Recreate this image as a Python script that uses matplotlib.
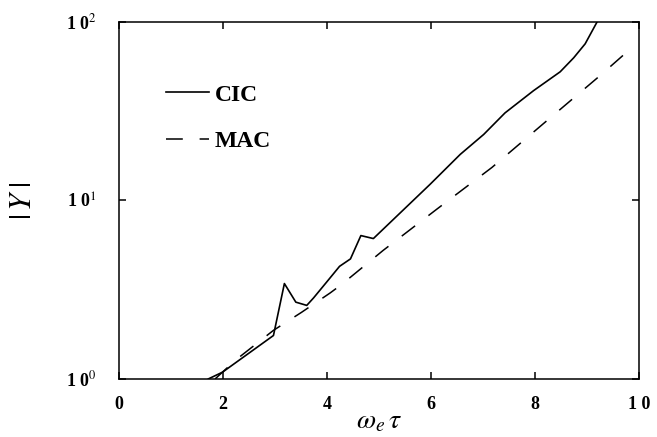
import matplotlib
matplotlib.use('Agg')
import matplotlib.pyplot as plt
from matplotlib.ticker import FixedLocator, NullLocator

plt.rcParams['font.family'] = ['Liberation Serif', 'DejaVu Serif']
plt.rcParams['mathtext.fontset'] = 'stix'

# CIC curve (solid)
cic_x = [1.72, 1.99, 2.97, 3.18, 3.40, 3.61, 3.74, 3.99, 4.24, 4.45, 4.65, 4.89,
         5.98, 6.56, 7.01, 7.42, 7.97, 8.48, 8.74, 8.96, 9.19]
cic_y = [1.0, 1.09, 1.75, 3.42, 2.69, 2.58, 2.84, 3.48, 4.27, 4.70, 6.35, 6.11,
         12.3, 18.1, 23.4, 30.9, 41.2, 52.5, 62.9, 75.3, 100.0]

# MAC curve (dashed)
mac_x = [1.85, 2.25, 2.97, 3.51, 4.06, 4.28, 5.08, 6.11, 7.17, 8.19, 9.24, 9.76]
mac_y = [1.0, 1.28, 1.87, 2.36, 3.03, 3.38, 5.25, 8.93, 15.3, 27.4, 49.8, 67.7]

x_ticks = [0, 2, 4, 6, 8, 10]
x_labels = ['0', '2', '4', '6', '8', '1 0']
y_ticks = [1, 10, 100]
y_labels = ['1 0$^{0}$', '1 0$^{1}$', '1 0$^{2}$']

fig = plt.figure(figsize=(6.57, 4.37), dpi=100)
ax = fig.add_axes([0.181, 0.133, 0.792, 0.817])

ax.plot(cic_x, cic_y, color='black', lw=1.2, label='CIC')
ax.plot(mac_x, mac_y, color='black', lw=1.1, linestyle=(0, (11, 11)), label='MAC')

ax.set_yscale('log')
ax.set_xlim(0, 10)
ax.set_ylim(1, 100)

ax.xaxis.set_major_locator(FixedLocator(x_ticks))
ax.set_xticklabels(x_labels, fontsize=13, fontweight='bold')
ax.yaxis.set_major_locator(FixedLocator(y_ticks))
ax.yaxis.set_minor_locator(NullLocator())
ax.set_yticklabels(y_labels, fontsize=13, fontweight='bold')

ax.tick_params(direction='in', length=5, width=1.1, top=True, right=True)
ax.tick_params(axis='x', pad=12)
ax.tick_params(axis='y', pad=16)
for s in ax.spines.values():
    s.set_linewidth(1.1)

ax.set_xlabel(r'$\omega_e\,\tau$', fontsize=20, labelpad=-2)
ax.set_ylabel(r'$|\,Y\;|$', fontsize=22, labelpad=20)

leg = ax.legend(loc='upper left', bbox_to_anchor=(0.05, 0.885), frameon=False,
                prop={'size': 17, 'weight': 'bold'}, handlelength=1.8,
                handletextpad=0.25, labelspacing=1.05)

fig.savefig('out.png', dpi=100)
